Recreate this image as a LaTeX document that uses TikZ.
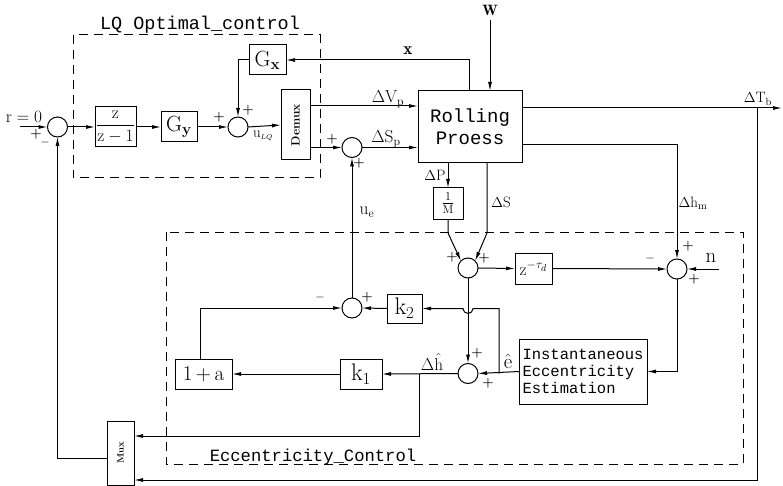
\documentclass[tikz,border=0pt]{standalone}
\usepackage{fontspec}
\newfontfamily\mono{Liberation Mono}
\usetikzlibrary{arrows.meta}
\begin{document}
\begin{tikzpicture}[x=1pt,y=-1pt,
  every node/.style={inner sep=0pt, outer sep=0pt},
  sumc/.style={draw, circle, minimum size=20pt, line width=1pt},
  arr/.style={-{Latex[length=9pt,width=4pt]}, line width=1pt},
  sg/.style={font=\fontsize{13}{13}\selectfont\bfseries},
  lb/.style={font=\fontsize{15}{15}\selectfont},
  bx/.style={draw, line width=1pt, font=\fontsize{22}{22}\selectfont},
  dbox/.style={draw, line width=1pt, dash pattern=on 9pt off 6pt},
  tt/.style={font=\mono\fontsize{18.5}{18.5}\selectfont}
]
\useasboundingbox (0,0) rectangle (783,486);

% dashed groups
\draw[dbox] (73,35) rectangle (320,178);
\draw[dbox] (166,232) rectangle (743,464);
\node[tt, anchor=base] (lqt) at (200,30) {LQ Optimal\_control};
\node[tt, font=\mono\fontsize{17.2}{17.2}\selectfont, anchor=base] (ect) at (313,461) {Eccentricity\_Control};

% blocks
\node[sumc] (s1) at (57.5,127) {};
\node[bx, minimum width=41pt, minimum height=40pt, font=\fontsize{17.28}{17.28}\selectfont] (zz) at (115.5,127) {$\displaystyle\frac{\mathrm{z}}{\mathrm{z}-1}$};
\node[bx, minimum width=36pt, minimum height=30pt] (gy) at (179,127) {G\textsubscript{\textbf{y}}};
\node[sumc] (s2) at (238,127) {};
\node[bx, minimum width=37pt, minimum height=30pt] (gx) at (267.5,60) {G\textsubscript{\textbf{x}}};
\node[draw, line width=1pt, minimum width=29pt, minimum height=70pt] (dmx) at (295.5,125) {};
\node[rotate=90, font=\fontsize{12}{12}\selectfont\bfseries] (dmxt) at (dmx.center) {Demux};
\node[sumc] (s3) at (352,147.5) {};
\node[draw, line width=1pt, minimum width=104pt, minimum height=72pt, align=center, font=\mono\fontsize{19}{22}\selectfont] (rp) at (470,127) {Rolling\\Proess};
\node[bx, minimum width=30pt, minimum height=31pt, font=\fontsize{17.28}{17.28}\selectfont] (om) at (448,203.5) {$\frac{1}{\mathrm{M}}$};
\node[sumc] (s6) at (468,268) {};
\node[bx, minimum width=37pt, minimum height=31pt, font=\fontsize{17.28}{17.28}\selectfont] (zt) at (533.5,268.5) {$\mathrm{z}^{-\tau_d}$};
\node[sumc] (s4) at (677,269) {};
\node[draw, line width=1pt, minimum width=128pt, minimum height=65pt, align=left, font=\mono\fontsize{15.5}{16.7}\selectfont] (iee) at (583,371.5) {Instantaneous\\Eccentricity\\Estimation};
\node[sumc] (s5) at (468,373.5) {};
\node[bx, minimum width=42pt, minimum height=30pt, font=\fontsize{24}{24}\selectfont] (k1) at (361,374) {k\textsubscript{1}};
\node[bx, minimum width=57pt, minimum height=30pt, font=\fontsize{21}{21}\selectfont] (oa) at (203.5,374) {1\,+\,a};
\node[sumc] (s7) at (352,308) {};
\node[bx, minimum width=35pt, minimum height=29pt, font=\fontsize{24}{24}\selectfont] (k2) at (404.5,308.5) {k\textsubscript{2}};
\node[draw, line width=1pt, minimum width=27pt, minimum height=64pt] (mux) at (120.5,453) {};
\node[rotate=90, font=\fontsize{9}{9}\selectfont\bfseries] (muxt) at (mux.center) {Mux};

% free ends
\coordinate (rin) at (20,127);
\coordinate (win) at (490,20);
\coordinate (tend) at (782,108);
\coordinate (tb) at (757,108);
\coordinate (nin) at (719,269);
\coordinate (eb) at (499,373.5);
\coordinate (hb) at (419,374);

% connectors
\draw[arr] (rin) -- (s1.west);
\draw[arr] (s1.east) -- (zz.west);
\draw[arr] (zz.east) -- (gy.west);
\draw[arr] (gy.east) -- (s2.west);
\draw[arr] ([xshift=-1pt]rp.north) |- (gx.east);
\draw[arr] (gx.west) -| (s2.north);
\draw[arr] (s2.east) -- (dmx.west);
\draw[arr] (dmx.east |- 0,106) -- (rp.west |- 0,106);
\draw[arr] (dmx.east |- s3.west) -- (s3.west);
\draw[arr] (s3.east) -- (rp.west |- s3.east);
\draw[arr] (win) -- (win |- rp.north);
\draw[arr] (rp.east |- tend) -- (tend);
\draw[arr] (tb) |- (mux.east |- 0,480);
\draw[arr] (rp.east |- 0,145) -| (s4.north);
\draw[arr] (nin) -- (s4.east);
\draw[arr] (zt.east) -- (s4.west);
\draw[arr] (s4.south) |- (iee.east);
\draw[arr] (iee.west) -- (s5.east);
\draw[arr] (eb) -- (eb |- k2.east) -- (473,308.5) arc[start angle=0, end angle=180, radius=5] -- (k2.east);
\draw[arr] (k2.west) -- (s7.east);
\draw[arr] ([xshift=-3.5pt]oa.north) |- (s7.west);
\draw[arr] (s7.north) -- (s3.south);
\draw[arr] (rp.south -| om.north) -- (om.north);
\draw[arr] (om.south) -- (448,233) -- (s6.north west);
\draw[arr] (rp.south -| 487,0) -- (487,233) -- (s6.north east);
\draw[arr] (s6.east) -- (zt.west);
\draw[arr] (s6.south) -- (s5.north);
\draw[arr] (s5.west) -- (k1.east);
\draw[arr] (hb) |- (mux.east |- 0,436);
\draw[arr] (k1.west) -- (oa.east);
\draw[arr] (mux.west |- 0,458) -| (s1.south);

% labels
\node[lb, font=\fontsize{17.28}{17.28}\selectfont] (lr) at (24,117) {$\mathrm{r}=0$};
\node[lb] (lw) at (490,10) {$\mathbf{W}$};
\node[lb, font=\fontsize{17.28}{17.28}\selectfont] (lx) at (408,51) {$\mathbf{x}$};
\node[lb] (lulq) at (263,136) {$\mathrm{u}_{\scriptscriptstyle LQ}$};
\node[lb, font=\fontsize{17.28}{17.28}\selectfont] (lvp) at (388,99) {$\Delta\mathrm{V}_{\mathrm{p}}$};
\node[lb, font=\fontsize{17.28}{17.28}\selectfont] (lsp) at (386,139) {$\Delta\mathrm{S}_{\mathrm{p}}$};
\node[lb] (ltb) at (758,99) {$\Delta\mathrm{T}_{\mathrm{b}}$};
\node[lb] (lhm) at (693,203) {$\Delta\mathrm{h}_{\mathrm{m}}$};
\node[lb] (ldp) at (435,175) {$\Delta\mathrm{P}$};
\node[lb] (lds) at (501,202) {$\Delta\mathrm{S}$};
\node[lb, font=\fontsize{17.28}{17.28}\selectfont] (lue) at (367,212) {$\mathrm{u}_{\mathrm{e}}$};
\node[lb, font=\fontsize{20.74}{20.74}\selectfont] (ln) at (711,258) {$\mathrm{n}$};
\node[lb, font=\fontsize{20.74}{20.74}\selectfont] (le) at (508,361) {$\hat{\mathrm{e}}$};
\node[lb, font=\fontsize{17.28}{17.28}\selectfont] (ldh) at (432,362) {$\Delta\hat{\mathrm{h}}$};

% signs
\node[sg] (p1) at (36,134) {+};
\node[sg] (m1) at (45,143) {$-$};
\node[sg] (p2a) at (219,117) {+};
\node[sg] (p2b) at (248,110) {+};
\node[sg] (p3a) at (332,139) {+};
\node[sg] (p3b) at (359,163) {+};
\node[sg] (p6a) at (452,257) {+};
\node[sg] (p6b) at (484,258) {+};
\node[sg] (m4) at (650,258) {$-$};
\node[sg] (p4a) at (688,246) {+};
\node[sg] (p4b) at (694,279) {+};
\node[sg] (p5a) at (477,353) {+};
\node[sg] (p5b) at (488,383) {+};
\node[sg] (m7) at (320,297) {$-$};
\node[sg] (p7) at (367,297) {+};
\end{tikzpicture}
\end{document}
